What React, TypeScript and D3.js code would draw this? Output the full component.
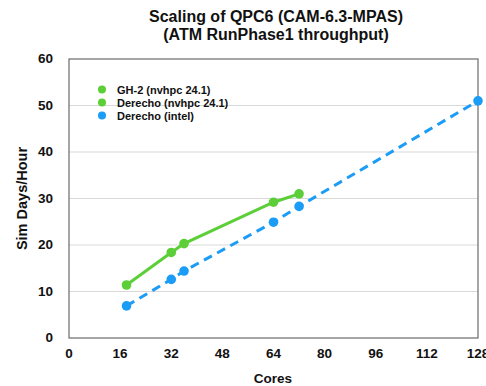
import React from "react";
import * as d3 from "d3";

const ghCores = [18, 32, 36, 64, 72];
const ghValues = [11.4, 18.4, 20.3, 29.2, 31.0];
const derNvCores: number[] = [];
const derNvValues: number[] = [];
const derIntelCores = [18, 32, 36, 64, 72, 128];
const derIntelValues = [6.9, 12.6, 14.4, 24.9, 28.3, 51.0];
const xTicks = [0, 16, 32, 48, 64, 80, 96, 112, 128];
const yTicks = [0, 10, 20, 30, 40, 50, 60];
const legendLabels = ["GH-2 (nvhpc 24.1)", "Derecho (nvhpc 24.1)", "Derecho (intel)"];

const GREEN = "#5ccf38";
const BLUE = "#1b9cf6";
const FONT = "'Liberation Sans', Arial, Helvetica, sans-serif";

export default function App() {
  const W = 486, H = 386;
  const x = d3.scaleLinear().domain([0, 128]).range([69, 478]);
  const y = d3.scaleLinear().domain([0, 60]).range([338, 59]);
  const line = d3.line<[number, number]>().x(d => x(d[0])).y(d => y(d[1]));

  const series = [
    { label: legendLabels[0], color: GREEN, dash: undefined as string | undefined, pts: ghCores.map((c, i) => [c, ghValues[i]] as [number, number]) },
    { label: legendLabels[1], color: GREEN, dash: undefined as string | undefined, pts: derNvCores.map((c, i) => [c, derNvValues[i]] as [number, number]) },
    { label: legendLabels[2], color: BLUE, dash: "9,6", pts: derIntelCores.map((c, i) => [c, derIntelValues[i]] as [number, number]) },
  ];

  return (
    <svg width={W} height={H} style={{ position: "absolute", left: 0, top: 0, background: "#fff" }} fontFamily={FONT}>
      <rect x={0} y={0} width={W} height={H} fill="#fff" />
      <text x={276} y={22} textAnchor="middle" fontSize={16} fontWeight="bold" fill="#111">Scaling of QPC6 (CAM-6.3-MPAS)</text>
      <text x={276} y={40} textAnchor="middle" fontSize={16} fontWeight="bold" fill="#111">(ATM RunPhase1 throughput)</text>

      {yTicks.filter(t => t > 0 && t < 60).map(t => (
        <line key={t} x1={x(0)} x2={x(128)} y1={y(t)} y2={y(t)} stroke="#d9d9d9" strokeWidth={1} />
      ))}
      <rect x={x(0)} y={y(60)} width={x(128) - x(0)} height={y(0) - y(60)} fill="none" stroke="#6b6b6b" strokeWidth={1.2} />

      {yTicks.map(t => (
        <text key={t} x={53} y={y(t) + 4} textAnchor="end" fontSize={13.5} fontWeight="bold" fill="#111">{t}</text>
      ))}
      {xTicks.map(t => (
        <text key={t} x={x(t)} y={358} textAnchor="middle" fontSize={13.5} fontWeight="bold" fill="#111">{t}</text>
      ))}
      <text x={273} y={383} textAnchor="middle" fontSize={13.5} fontWeight="bold" fill="#111">Cores</text>
      <text transform={`translate(27,${y(30)}) rotate(-90)`} textAnchor="middle" fontSize={14.5} fontWeight="bold" fill="#111">Sim Days/Hour</text>

      {series.map((s, i) => (
        <g key={i}>
          {s.pts.length > 0 && (
            <path d={line(s.pts) || ""} fill="none" stroke={s.color} strokeWidth={3} strokeDasharray={s.dash} />
          )}
          {s.pts.map((p, j) => (
            <circle key={j} cx={x(p[0])} cy={y(p[1])} r={4.8} fill={s.color} />
          ))}
        </g>
      ))}

      {series.map((s, i) => (
        <g key={i} transform={`translate(102,${89.5 + i * 13})`}>
          <circle cx={0} cy={0} r={4} fill={s.color} />
          <text x={15} y={4} fontSize={11} fontWeight="bold" fill="#111">{s.label}</text>
        </g>
      ))}
    </svg>
  );
}
